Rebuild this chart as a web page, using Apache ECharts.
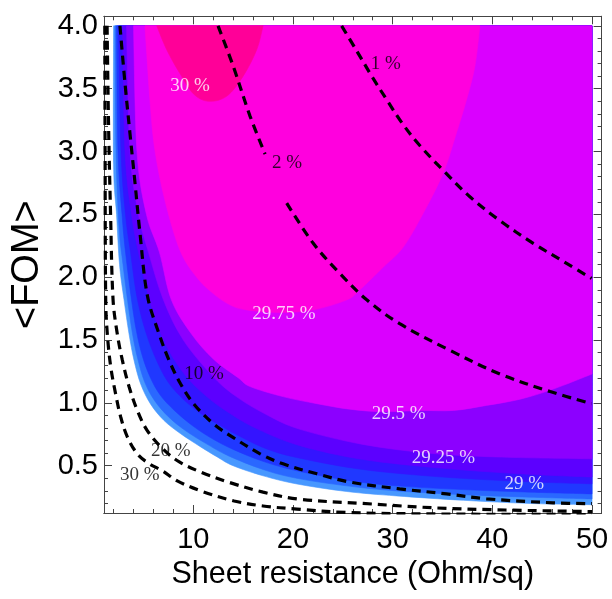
<!DOCTYPE html>
<html><head><meta charset="utf-8">
<script src="https://cdn.jsdelivr.net/npm/echarts@6/dist/echarts.min.js"></script>
<style>html,body{margin:0;padding:0;background:#fff}#c{width:612px;height:599px}</style>
</head><body><div id="c"></div>
<script>
// ---- axis ranges / ticks ----
const xRange = [1.04, 50.96];
const yRange = [0.124, 4.076];
const xMajor = [10, 20, 30, 40, 50];
const xMinor = [2,4,6,8,12,14,16,18,22,24,26,28,32,34,36,38,42,44,46,48];
const yMajor = [0.5, 1.0, 1.5, 2.0, 2.5, 3.0, 3.5, 4.0];
const yMinor = [0.2,0.3,0.4,0.6,0.7,0.8,0.9,1.1,1.2,1.3,1.4,1.6,1.7,1.8,1.9,2.1,2.2,2.3,2.4,2.6,2.7,2.8,2.9,3.1,3.2,3.3,3.4,3.6,3.7,3.8,3.9];

// ---- filled contour boundaries (efficiency levels) ----
const edge0 = [[2,4],[2,2.9],[2.3,2.5],[2.6,2.1],[3.05,1.82],[3.55,1.55],[4.05,1.34],[4.72,1.15],[5.72,0.99],[7.06,0.86],[8.73,0.755],[10.74,0.65],[12.4,0.57],[14,0.5],[17,0.42],[20.4,0.355],[25.4,0.295],[30.4,0.26],[37.1,0.225],[43.8,0.2],[50,0.19]];
const edge1 = [[2.15,4],[2.25,3.0],[2.55,2.4],[2.95,2.1],[3.4,1.82],[3.9,1.55],[4.4,1.36],[5.1,1.17],[6.1,1.02],[7.5,0.89],[9.2,0.78],[11.2,0.68],[13.5,0.58],[17,0.47],[20.4,0.4],[25.4,0.34],[30.4,0.3],[37.1,0.27],[43.8,0.25],[50,0.236]];
const edge2 = [[2.3,4],[2.45,3.0],[2.85,2.5],[3.2,2.2],[3.8,1.82],[4.3,1.57],[4.9,1.37],[5.7,1.2],[6.7,1.06],[8.1,0.94],[9.9,0.82],[11.8,0.72],[14,0.63],[17,0.535],[20.4,0.46],[25.4,0.385],[30.4,0.34],[37.1,0.31],[43.8,0.29],[50,0.276]];
const edge3 = [[2.5,4],[2.75,3.0],[3.2,2.5],[3.7,2.2],[4.4,1.82],[5.5,1.5],[7.05,1.22],[8.6,1.06],[10.5,0.93],[12.7,0.82],[15,0.72],[17.5,0.63],[20.7,0.56],[27,0.47],[35,0.41],[43,0.375],[50,0.356]];
const edge4 = [[2.9,4],[3.15,3.0],[3.8,2.5],[4.5,2.2],[5.6,1.82],[7.0,1.5],[9.0,1.24],[11.2,1.06],[13.6,0.92],[16.5,0.79],[20.7,0.66],[27,0.55],[35,0.48],[43,0.435],[50,0.41]];
const edge2925 = [[3.3,4],[3.65,3.0],[4.5,2.5],[5.5,2.2],[7.0,1.82],[9.0,1.5],[12.1,1.2],[14.5,1.04],[17.5,0.9],[20.7,0.79],[27,0.67],[33.7,0.6],[40.4,0.57],[50,0.555]];
const edge295 = [[4.0,4],[4.35,3.0],[5.3,2.5],[6.6,2.2],[7.8,1.82],[9.8,1.55],[12,1.35],[14.5,1.2],[15.7,1.13],[19,1.05],[22.4,0.994],[25.7,0.95],[29,0.93],[32.7,0.94],[36.1,0.94],[39.4,0.98],[42.8,1.03],[46.1,1.11],[50,1.23]];
const edge2975 = [[5.15,4],[5.65,3.41],[6.15,3.01],[7.16,2.61],[8.66,2.215],[10.34,2.0],[12.0,1.87],[13.68,1.78],[15.35,1.74],[18.7,1.72],[22.0,1.74],[25.4,1.82],[26.7,1.9],[29.05,2.08],[31.06,2.24],[33.07,2.51],[35.07,2.83],[36.4,3.15],[37.4,3.41],[38.25,3.68],[38.75,4]];
const edge30 = [[6.33,4],[7.33,3.81],[8.66,3.62],[10.0,3.46],[11.5,3.4],[13.35,3.44],[15.0,3.6],[16.36,3.81],[17.0,4]];
const topRight = [[50,4]];

const regions = [
  {curve:edge0, close:topRight}, {curve:edge1, close:topRight}, {curve:edge2, close:topRight},
  {curve:edge3, close:topRight}, {curve:edge4, close:topRight}, {curve:edge2925, close:topRight},
  {curve:edge295, close:topRight}, {curve:edge2975, close:[]}, {curve:edge30, close:[]}
];
const regionColors = ['#4898ff','#2a68ff','#2038ff','#3414ff','#5c00ff','#8c00ff','#da00ff','#ff00de','#ff0098'];

// ---- dashed loss contours ----
const loss1 = [[24.88,4.0],[26.4,3.8],[27.9,3.6],[29.5,3.4],[31,3.22],[32.7,3.05],[35.07,2.85],[37.75,2.64],[40.76,2.45],[44.1,2.27],[47.45,2.11],[49.96,1.99]];
const loss2 = [[12.48,4.0],[14.0,3.68],[15.7,3.28],[17.2,2.98],null,[19.37,2.59],[22.03,2.27],[24.7,2.03],[27.4,1.82],[30.7,1.63],[35.7,1.42],[40.76,1.23],[45.8,1.09],[49.96,0.994]];
const loss10 = [[2.64,4.0],[3.15,3.54],[3.65,3.14],[4.15,2.75],[4.65,2.35],[5.4,1.85],[6.56,1.55],[7.56,1.34],[8.73,1.15],[10.07,0.99],[12.07,0.83],[13.9,0.73],[16.7,0.595],[19.0,0.515],[22.4,0.436],[25.7,0.37],[30.7,0.316],[35.4,0.276],[39.4,0.237],[46.1,0.205],[50,0.198]];
const loss20 = [[1.35,4.0],[1.5,3.2],[1.7,2.5],[1.95,1.82],[2.37,1.55],[2.88,1.34],[3.55,1.13],[4.38,0.94],[5.38,0.78],[7.0,0.63],[8.6,0.53],[10.74,0.45],[13.5,0.37],[17,0.29],[20.5,0.235],[27,0.2],[35.7,0.16],[50,0.135]];
const loss30 = [[1.12,4.0],[1.15,3.0],[1.21,1.82],[1.37,1.55],[1.71,1.29],[2.21,1.07],[2.71,0.89],[3.38,0.73],[4.38,0.595],[5.5,0.52],[6.89,0.46],[8.39,0.38],[10.74,0.3],[14.1,0.22],[17,0.18],[20.4,0.155],[25.4,0.128],[35,0.116],[50,0.112]];
const lossLines = [loss1, loss2, loss10, loss20, loss30];

// ---- contour labels ----
const whiteLabels = [[9.67,3.52,'30 %'],[19.1,1.71,'29.75 %'],[30.6,0.914,'29.5 %'],[35.1,0.563,'29.25 %'],[43.2,0.356,'29 %']];
const blackLabels = [[29.3,3.70,'1 %'],[19.4,2.91,'2 %'],[11.07,1.23,'10 %'],[7.73,0.62,'20 %'],[4.62,0.43,'30 %']];

const axisCol = '#444';
const tickFont = {color:'#000', fontFamily:'Liberation Sans', fontSize:29};
function xAx(pos, ticks, len, labels, extra){
  return Object.assign({type:'value', position:pos, min:xRange[0], max:xRange[1],
    axisLine:{show:true, onZero:false, lineStyle:{color:axisCol,width:1}},
    axisTick:{show:true, inside:true, length:len, customValues:ticks, lineStyle:{color:axisCol,width:1}},
    axisLabel:Object.assign({show:labels, customValues:ticks, margin:12}, tickFont),
    splitLine:{show:false}}, extra||{});
}
function yAx(pos, ticks, len, labels, extra){
  return Object.assign({type:'value', position:pos, min:yRange[0], max:yRange[1],
    axisLine:{show:true, onZero:false, lineStyle:{color:axisCol,width:1}},
    axisTick:{show:true, inside:true, length:len, customValues:ticks, lineStyle:{color:axisCol,width:1}},
    axisLabel:Object.assign({show:labels, customValues:ticks, margin:6, formatter:v=>v.toFixed(1)}, tickFont),
    splitLine:{show:false}}, extra||{});
}

// smooth closed outline through the read points (Catmull-Rom rendered as cubic Beziers)
function outline(api, reg){
  const c = reg.curve.map(p => api.coord(p));
  const n = c.length;
  let d = 'M' + c[0][0].toFixed(2) + ' ' + c[0][1].toFixed(2);
  for (let i = 0; i < n - 1; i++) {
    const p0 = c[Math.max(i-1,0)], p1 = c[i], p2 = c[i+1], p3 = c[Math.min(i+2,n-1)];
    const c1 = [p1[0] + (p2[0]-p0[0])/6, p1[1] + (p2[1]-p0[1])/6];
    const c2 = [p2[0] - (p3[0]-p1[0])/6, p2[1] - (p3[1]-p1[1])/6];
    d += ' C' + c1.map(v=>v.toFixed(2)).join(' ') + ' ' + c2.map(v=>v.toFixed(2)).join(' ') + ' ' + p2[0].toFixed(2) + ' ' + p2[1].toFixed(2);
  }
  reg.close.forEach(p => { const q = api.coord(p); d += ' L' + q[0].toFixed(2) + ' ' + q[1].toFixed(2); });
  return d + ' Z';
}

const series = [];
regions.forEach((reg, i) => {
  series.push({type:'custom', xAxisIndex:0, yAxisIndex:0, data:reg.curve, encode:{x:0,y:1}, silent:true, z:1,
    renderItem:(params, api) => {
      if (params.dataIndex !== 0) return;
      return {type:'path', z2:i, shape:{pathData:outline(api, reg)}, style:{fill:regionColors[i], stroke:regionColors[i], lineWidth:0.6}};
    }});
});
lossLines.forEach(d => {
  series.push({type:'line', xAxisIndex:0, yAxisIndex:0, data:d.map(p => p ? p : ['-','-']), showSymbol:false, smooth:0.35, clip:true, z:5,
    connectNulls:false, lineStyle:{color:'#000', width:3.2, type:[9,6], cap:'butt'}, silent:true});
});
function labelSeries(arr, col){
  return {type:'scatter', xAxisIndex:0, yAxisIndex:0, data:arr, symbolSize:0, z:6, silent:true,
    label:{show:true, position:'inside', formatter:p=>p.data[2], color:col, fontFamily:'Liberation Serif', fontSize:19}};
}
series.push(labelSeries(whiteLabels, '#fff'));
series.push(labelSeries(blackLabels, '#000'));

const chart = echarts.init(document.getElementById('c'), null, {renderer:'canvas'});
chart.setOption({
  animation:false,
  grid:{left:104, right:10.4, top:16.3, bottom:86, containLabel:false, outerBoundsMode:'none'},
  xAxis:[
    xAx('bottom', xMajor, 8, true, {name:'Sheet resistance (Ohm/sq)', nameLocation:'middle', nameGap:41, nameTextStyle:{color:'#000', fontFamily:'Liberation Sans', fontSize:30.5}}),
    xAx('bottom', xMinor, 4, false),
    xAx('top', xMajor, 8, false),
    xAx('top', xMinor, 4, false)
  ],
  yAxis:[
    yAx('left', yMajor, 8, true, {name:'<FOM>', nameLocation:'middle', nameGap:56, nameRotate:90, nameTextStyle:{color:'#000', fontFamily:'Liberation Sans', fontSize:38}}),
    yAx('left', yMinor, 4, false),
    yAx('right', yMajor, 8, false),
    yAx('right', yMinor, 4, false)
  ],
  series:series
});
</script></body></html>
